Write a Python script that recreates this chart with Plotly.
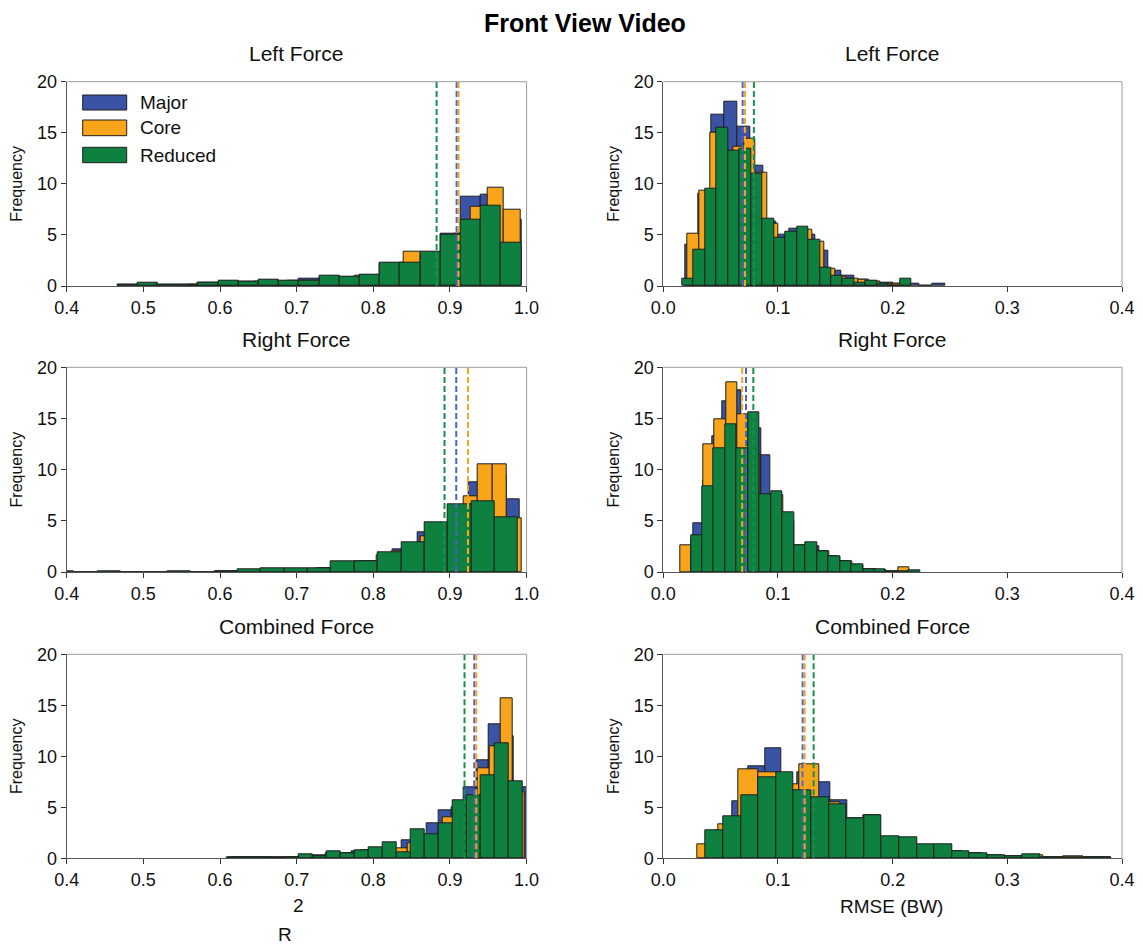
import numpy as np
import plotly.graph_objects as go

# page body has an 8px margin; figure is sized to fill the rest of the window
OFF = 8
W, H = 1143 - OFF, 949 - OFF
FONT = "Arial, 'Liberation Sans', sans-serif"

# ---------------- data ----------------
series_names = ["Major", "Core", "Reduced"]
bar_colors = {"Major": "#3a53a4", "Core": "#f9a51b", "Reduced": "#0e8040"}
line_colors = {"Major": "#4a63c6", "Core": "#f7a520", "Reduced": "#17904b"}

panel_titles = ["Left Force", "Left Force", "Right Force", "Right Force",
                "Combined Force", "Combined Force"]

# Left Force, R^2
tl_major_bins = (0.466, 0.02635)
tl_major = [0.1, 0.25, 0.1, 0.15, 0.3, 0.45, 0.4, 0.55, 0.45, 0.7, 0.95, 0.85, 1.05, 2.2, 2.25, 3.3, 5.1, 8.7, 8.9, 6.5]
tl_core_bins = (0.5582, 0.0217)
tl_core = [0.1, 0.1, 0.2, 0.3, 0.4, 0.4, 0.5, 0.5, 0.7, 0.8, 1.0, 1.0, 2.2, 3.4, 3.0, 3.3, 5.15, 7.8, 9.6, 7.5]
tl_reduced_bins = (0.466, 0.02635)
tl_reduced = [0.1, 0.3, 0.1, 0.15, 0.3, 0.5, 0.4, 0.6, 0.5, 0.5, 1.0, 0.9, 1.1, 2.3, 2.3, 3.4, 5.0, 6.5, 7.9, 4.2]
tl_means = [0.9087, 0.9113, 0.8826]

# Left Force, RMSE
tr_major_bins = (0.0195, 0.01132)
tr_major = [4.0, 9.0, 16.8, 18.0, 15.6, 11.8, 6.3, 5.0, 5.6, 5.0, 3.5, 1.5, 1.0, 0.6, 0.45, 0.3, 0.25, 0.26, 0, 0.26]
tr_core_bins = (0.0212, 0.0099)
tr_core = [5.1, 9.3, 15.0, 13.0, 13.6, 14.4, 11.1, 6.1, 4.6, 5.0, 5.5, 4.3, 1.7, 0.9, 0.7, 0.6, 0.4, 0.2, 0.2]
tr_reduced_bins = (0.0165, 0.01)
tr_reduced = [0.75, 3.6, 9.5, 15.5, 13.2, 13.4, 11.0, 6.6, 4.7, 5.3, 5.8, 4.5, 1.8, 1.0, 0.75, 0.33, 0.5, 0.26, 0, 0.75]
tr_means = [0.0692, 0.0712, 0.079]

# Right Force, R^2
ml_major_bins = (0.5939, 0.01653)
ml_major = [0.1, 0.05, 0.1, 0.1, 0.15, 0.2, 0.25, 0.3, 0.35, 0.4, 0.8, 1.0, 1.0, 1.5, 2.2, 2.5, 3.84, 4.0, 4.5, 6.0, 8.76, 10.0, 9.5, 7.1]
ml_core_bins = (0.6155, 0.0189)
ml_core = [0.1, 0.15, 0.2, 0.25, 0.3, 0.3, 0.4, 0.7, 0.9, 1.0, 1.6, 2.0, 2.5, 3.5, 4.5, 5.5, 7.36, 10.5, 10.5, 5.2]
ml_reduced_bins = (0.379, 0.0305)
ml_reduced = [0.1, 0, 0.1, 0, 0, 0.1, 0, 0.1, 0.27, 0.33, 0.35, 0.36, 1.07, 1.07, 1.95, 2.87, 4.85, 6.6, 6.9, 5.3]
ml_means = [0.9082, 0.9235, 0.8929]

# Right Force, RMSE
mr_major_bins = (0.0262, 0.00843)
mr_major = [4.75, 9.0, 13.3, 16.7, 17.8, 14.5, 14.0, 11.4, 7.5, 5.5, 2.6, 2.6, 2.5, 2.0, 1.5, 1.0, 0.7, 0.3, 0.25, 0.2]
mr_core_bins = (0.0145, 0.01)
mr_core = [2.6, 3.3, 12.5, 14.9, 18.5, 15.4, 11.5, 7.0, 7.5, 5.0, 2.5, 2.5, 2.0, 1.4, 1.0, 0.7, 0.2, 0.2, 0.1, 0.42]
mr_reduced_bins = (0.024, 0.01)
mr_reduced = [3.6, 8.4, 12.1, 14.4, 12.1, 15.6, 7.6, 7.9, 5.8, 2.6, 2.9, 2.05, 1.56, 1.07, 0.78, 0.26, 0.26, 0.1, 0.1, 0.16]
mr_means = [0.0721, 0.0688, 0.0785]

# Combined Force, R^2
bl_major_bins = (0.6088, 0.0163)
bl_major = [0.05, 0.1, 0.05, 0.1, 0.1, 0.1, 0.3, 0.3, 0.5, 0.5, 0.7, 0.8, 1.0, 0.6, 1.76, 2.3, 3.4, 4.7, 5.0, 7.0, 9.6, 13.1, 12.0, 7.0]
bl_core_bins = (0.6165, 0.01522)
bl_core = [0.05, 0.05, 0.05, 0.1, 0.1, 0.1, 0.15, 0.15, 0.5, 0.5, 0.5, 0.8, 1.0, 1.2, 1.0, 1.5, 2.3, 2.3, 4.0, 5.0, 5.5, 8.8, 11.0, 15.7, 6.5]
bl_reduced_bins = (0.6111, 0.01827)
bl_reduced = [0.1, 0.1, 0.1, 0, 0.1, 0.38, 0.16, 0.69, 0.52, 0.82, 1.11, 1.57, 0.62, 2.84, 2.39, 3.43, 5.72, 6.14, 8.14, 11.3, 7.55]
bl_means = [0.9318, 0.9344, 0.919]

# Combined Force, RMSE
br_major_bins = (0.031, 0.01438)
br_major = [1.2, 2.7, 5.6, 9.0, 10.8, 7.0, 8.4, 7.45, 5.7, 3.9, 4.2, 2.1, 2.0, 1.3, 1.3, 0.7, 0.45, 0.3, 0.15, 0.15, 0.13, 0.1, 0.05, 0.07, 0.05]
br_core_bins = (0.0299, 0.01772)
br_core = [1.4, 3.33, 8.76, 8.43, 7.25, 9.2, 5.5, 3.8, 3.5, 2.0, 1.3, 1.2, 0.7, 0.45, 0.3, 0.15, 0.3, 0.1, 0.23, 0.05]
br_reduced_bins = (0.037, 0.01535)
br_reduced = [2.75, 4.08, 6.14, 7.9, 8.43, 6.7, 5.98, 5.3, 3.92, 4.25, 2.19, 2.06, 1.37, 1.37, 0.72, 0.49, 0.3, 0.16, 0.36, 0.13, 0.05, 0.07, 0.07]
br_means = [0.1215, 0.1233, 0.1311]

r2_ticks = [0.4, 0.5, 0.6, 0.7, 0.8, 0.9, 1.0]
rmse_ticks = [0.0, 0.1, 0.2, 0.3, 0.4]
freq_ticks = [0, 5, 10, 15, 20]

panels = [
    (tl_major_bins, tl_major, tl_core_bins, tl_core, tl_reduced_bins, tl_reduced, tl_means),
    (tr_major_bins, tr_major, tr_core_bins, tr_core, tr_reduced_bins, tr_reduced, tr_means),
    (ml_major_bins, ml_major, ml_core_bins, ml_core, ml_reduced_bins, ml_reduced, ml_means),
    (mr_major_bins, mr_major, mr_core_bins, mr_core, mr_reduced_bins, mr_reduced, mr_means),
    (bl_major_bins, bl_major, bl_core_bins, bl_core, bl_reduced_bins, bl_reduced, bl_means),
    (br_major_bins, br_major, br_core_bins, br_core, br_reduced_bins, br_reduced, br_means),
]

# ---------------- layout geometry (window pixels) ----------------
col_px = [(66.7, 526.6), (663.3, 1122.0)]
row_px = [(81.7, 286.0), (367.3, 572.0), (654.3, 858.3)]


def px_x(p):
    return (p - OFF) / W


def px_y(p):
    return 1 - (p - OFF) / H


fig = go.Figure()
layout = {}
shapes = []
annotations = []

for i, (mb, mv, cb, cv, rb, rv, means) in enumerate(panels):
    row, col = divmod(i, 2)
    ax = "" if i == 0 else str(i + 1)
    xa, ya = "x" + ax, "y" + ax
    for name, (start, width), vals in zip(series_names, [mb, cb, rb], [mv, cv, rv]):
        vals = np.asarray(vals, dtype=float)
        centers = start + width * (np.arange(len(vals)) + 0.5)
        fig.add_trace(go.Bar(
            x=centers, y=vals, width=[width] * len(vals), name=name,
            marker=dict(color=bar_colors[name], line=dict(color="#1e1e1e", width=1)),
            opacity=1, xaxis=xa, yaxis=ya, showlegend=False, legendgroup=name,
        ))
    for name, m in zip(series_names, means):
        fig.add_trace(go.Scatter(
            x=[m, m], y=[0, 20], mode="lines", name=name + " mean",
            line=dict(color=line_colors[name], width=2, dash="6px,3px"),
            xaxis=xa, yaxis=ya, showlegend=False, hoverinfo="skip",
        ))
    x0, x1 = col_px[col]
    y0, y1 = row_px[row]
    is_r2 = col == 0
    layout["xaxis" + ax] = dict(
        domain=[px_x(x0), px_x(x1)], anchor=ya,
        range=[0.4, 1.0] if is_r2 else [0.0, 0.4],
        tickvals=r2_ticks if is_r2 else rmse_ticks, tickformat=".1f",
        ticks="outside", ticklen=5, tickcolor="#333", showgrid=False, zeroline=False,
        showline=True, linecolor="#555", linewidth=1, automargin=False,
        tickfont=dict(family=FONT, size=18, color="#111"),
    )
    layout["yaxis" + ax] = dict(
        domain=[px_y(y1), px_y(y0)], anchor=xa, range=[0, 20],
        tickvals=freq_ticks, ticks="outside", ticklen=5, tickcolor="#333",
        showgrid=False, zeroline=False, showline=True, linecolor="#555", linewidth=1,
        automargin=False, tickfont=dict(family=FONT, size=18, color="#111"),
        title=dict(text="Frequency", standoff=10, font=dict(family=FONT, size=16, color="#111")),
    )
    # light top / right frame lines
    shapes.append(dict(type="line", xref="paper", yref="paper", x0=px_x(x0), x1=px_x(x1),
                       y0=px_y(y0), y1=px_y(y0), line=dict(color="#9a9a9a", width=1)))
    shapes.append(dict(type="line", xref="paper", yref="paper", x0=px_x(x1), x1=px_x(x1),
                       y0=px_y(y0), y1=px_y(y1), line=dict(color="#9a9a9a", width=1)))
    annotations.append(dict(text=panel_titles[i], xref="paper", yref="paper",
                            x=px_x((x0 + x1) / 2), y=px_y(y0 - 28), xanchor="center",
                            yanchor="middle", showarrow=False,
                            font=dict(family=FONT, size=21, color="#111")))

# main title (anchored to the very top of the figure so it is not clipped)
annotations.append(dict(text="<b>Front View Video</b>", xref="paper", yref="paper",
                        x=px_x(585), y=1.0, xanchor="center", yanchor="top",
                        showarrow=False, borderpad=0,
                        font=dict(family=FONT, size=25, color="#000")))
# x axis titles
annotations.append(dict(text="2", xref="paper", yref="paper", x=px_x(298), y=px_y(905),
                        xanchor="center", yanchor="middle", showarrow=False,
                        font=dict(family=FONT, size=19, color="#111")))
annotations.append(dict(text="R", xref="paper", yref="paper", x=px_x(285), y=px_y(934),
                        xanchor="center", yanchor="middle", showarrow=False,
                        font=dict(family=FONT, size=19, color="#111")))
annotations.append(dict(text="RMSE (BW)", xref="paper", yref="paper", x=px_x(891), y=px_y(906),
                        xanchor="center", yanchor="middle", showarrow=False,
                        font=dict(family=FONT, size=19, color="#111")))

# legend (drawn in the top-left panel)
legend_rows = [(95, 110), (120, 135.7), (147.3, 162.7)]
for name, (ly0, ly1) in zip(series_names, legend_rows):
    shapes.append(dict(type="rect", xref="paper", yref="paper", x0=px_x(82.7), x1=px_x(126.7),
                       y0=px_y(ly1), y1=px_y(ly0), fillcolor=bar_colors[name],
                       line=dict(color="#1e1e1e", width=1)))
    annotations.append(dict(text=name, xref="paper", yref="paper", x=px_x(137.5),
                            y=px_y((ly0 + ly1) / 2), xanchor="left", yanchor="middle",
                            showarrow=False, font=dict(family=FONT, size=19, color="#111")))

fig.update_layout(
    width=W, height=H, margin=dict(l=0, r=0, t=0, b=0),
    paper_bgcolor="white", plot_bgcolor="white", barmode="overlay", bargap=0,
    showlegend=False, shapes=shapes, annotations=annotations,
    font=dict(family=FONT, color="#111"), **layout,
)

fig.write_html("out.html")
